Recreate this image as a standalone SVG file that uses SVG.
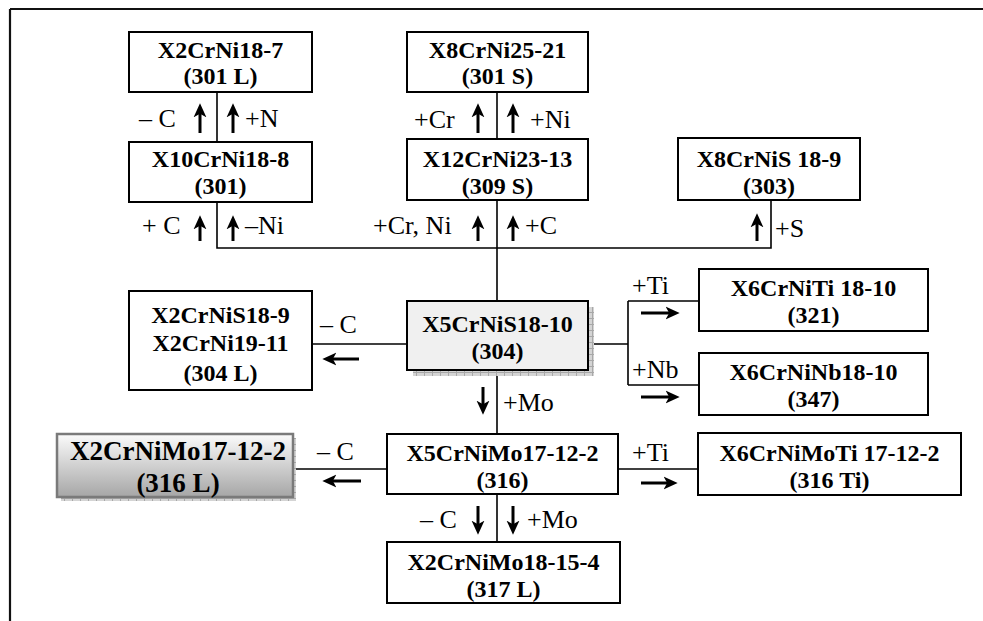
<svg xmlns="http://www.w3.org/2000/svg" width="983" height="621" viewBox="0 0 983 621">
<defs>
<style>
.box{fill:#fff;stroke:#000;stroke-width:2}
.nt{font-family:"Liberation Serif","Times New Roman",serif;font-weight:bold;font-size:24px;text-anchor:middle;fill:#000}
.big{font-size:27px}
.lb{font-family:"Liberation Serif","Times New Roman",serif;font-size:26px;fill:#000}
.cn{fill:none;stroke:#000;stroke-width:1.6}
.ar{fill:none;stroke:#000;stroke-width:3;marker-end:url(#ah)}
</style>
<marker id="ah" viewBox="0 0 12 12" refX="8" refY="6" markerWidth="14" markerHeight="14" orient="auto" markerUnits="userSpaceOnUse">
<path d="M0,0.5 L12,6 L0,11.5 L3,6 z" fill="#000"/>
</marker>
<pattern id="grid" width="8" height="6" patternUnits="userSpaceOnUse">
<rect width="8" height="6" fill="#d4d4d4"/>
<path d="M0,0.5 H8 M0.5,0 V6" stroke="#a8a8a8" stroke-width="1"/>
</pattern>
<linearGradient id="gr" x1="0" y1="0" x2="0" y2="1">
<stop offset="0" stop-color="#fbfbfb"/>
<stop offset="1" stop-color="#a6a6a6"/>
</linearGradient>
</defs>
<rect width="983" height="621" fill="#fff"/>
<g id="frame">
<path d="M10,9 H983 M10,9 V621" fill="none" stroke="#111" stroke-width="2.2"/>
</g>
<g id="connectors">
<path class="cn" d="M217,92 V142"/>
<path class="cn" d="M217,202 V248 H771 V200"/>
<path class="cn" d="M497,92 V139"/>
<path class="cn" d="M497,200 V301"/>
<path class="cn" d="M312,344 H407"/>
<path class="cn" d="M588,344 H628 M628,301 V385 M628,301 H699 M628,385 H699"/>
<path class="cn" d="M497,370 V434"/>
<path class="cn" d="M293,469 H387"/>
<path class="cn" d="M618,469 H698"/>
<path class="cn" d="M497,494 V542"/>
<path class="ar" d="M200,133 V108"/>
<path class="ar" d="M233,133 V108"/>
<path class="ar" d="M200,241 V220"/>
<path class="ar" d="M233,241 V220"/>
<path class="ar" d="M478,133 V108"/>
<path class="ar" d="M513,133 V108"/>
<path class="ar" d="M478,241 V220"/>
<path class="ar" d="M513,241 V220"/>
<path class="ar" d="M757,241 V218"/>
<path class="ar" d="M359,359 H327"/>
<path class="ar" d="M641,313 H675"/>
<path class="ar" d="M641,397 H675"/>
<path class="ar" d="M483,387 V410"/>
<path class="ar" d="M361,481 H327"/>
<path class="ar" d="M641,483 H673"/>
<path class="ar" d="M478,506 V530"/>
<path class="ar" d="M513,506 V530"/>
<text class="lb" x="139" y="127">– C</text>
<text class="lb" x="245" y="127">+N</text>
<text class="lb" x="142" y="234">+ C</text>
<text class="lb" x="245" y="234">–Ni</text>
<text class="lb" x="414" y="128">+Cr</text>
<text class="lb" x="530" y="128">+Ni</text>
<text class="lb" x="373" y="234">+Cr, Ni</text>
<text class="lb" x="525" y="234">+C</text>
<text class="lb" x="775" y="237">+S</text>
<text class="lb" x="320" y="333">– C</text>
<text class="lb" x="632" y="294">+Ti</text>
<text class="lb" x="632" y="378">+Nb</text>
<text class="lb" x="503" y="411">+Mo</text>
<text class="lb" x="317" y="460">– C</text>
<text class="lb" x="632" y="461">+Ti</text>
<text class="lb" x="420" y="528">– C</text>
<text class="lb" x="527" y="528">+Mo</text>
</g>
<g id="n301L">
<rect class="box" x="129" y="32" width="183" height="60"/>
<text class="nt" x="220.5" y="58">X2CrNi18-7</text>
<text class="nt" x="220.5" y="84">(301 L)</text>
</g>
<g id="n301">
<rect class="box" x="129" y="142" width="183" height="60"/>
<text class="nt" x="220.5" y="167">X10CrNi18-8</text>
<text class="nt" x="220.5" y="194">(301)</text>
</g>
<g id="n301S">
<rect class="box" x="407" y="32" width="181" height="60"/>
<text class="nt" x="497.5" y="58">X8CrNi25-21</text>
<text class="nt" x="497.5" y="84">(301 S)</text>
</g>
<g id="n309S">
<rect class="box" x="407" y="139" width="181" height="61"/>
<text class="nt" x="497.5" y="167">X12CrNi23-13</text>
<text class="nt" x="497.5" y="194">(309 S)</text>
</g>
<g id="n303">
<rect class="box" x="678" y="138" width="182" height="62"/>
<text class="nt" x="769" y="167">X8CrNiS 18-9</text>
<text class="nt" x="769" y="194">(303)</text>
</g>
<g id="n304L">
<rect class="box" x="129" y="291" width="183" height="99"/>
<text class="nt" x="220.5" y="323">X2CrNiS18-9</text>
<text class="nt" x="220.5" y="351">X2CrNi19-11</text>
<text class="nt" x="220.5" y="381">(304 L)</text>
</g>
<g id="n304">
<rect x="413" y="307" width="181" height="69" fill="url(#grid)"/>
<rect class="box" x="407" y="301" width="181" height="69" style="fill:#f0f0f0"/>
<text class="nt" x="497.5" y="332">X5CrNiS18-10</text>
<text class="nt" x="497.5" y="359">(304)</text>
</g>
<g id="n321">
<rect class="box" x="699" y="269" width="229" height="62"/>
<text class="nt" x="813.5" y="296">X6CrNiTi 18-10</text>
<text class="nt" x="813.5" y="323">(321)</text>
</g>
<g id="n347">
<rect class="box" x="699" y="353" width="229" height="62"/>
<text class="nt" x="813.5" y="380">X6CrNiNb18-10</text>
<text class="nt" x="813.5" y="407">(347)</text>
</g>
<g id="n316L">
<rect x="61" y="438" width="235" height="63" fill="url(#grid)"/>
<rect x="57" y="434" width="236" height="63" fill="url(#gr)" stroke="#7a7a7a" stroke-width="2.5"/>
<text class="nt big" x="178" y="460">X2CrNiMo17-12-2</text>
<text class="nt big" x="178" y="492">(316 L)</text>
</g>
<g id="n316">
<rect class="box" x="387" y="434" width="231" height="60"/>
<text class="nt" x="502.5" y="461">X5CrNiMo17-12-2</text>
<text class="nt" x="502.5" y="488">(316)</text>
</g>
<g id="n316Ti">
<rect class="box" x="698" y="433" width="263" height="62"/>
<text class="nt" x="829.5" y="461">X6CrNiMoTi 17-12-2</text>
<text class="nt" x="829.5" y="488">(316 Ti)</text>
</g>
<g id="n317L">
<rect class="box" x="387" y="542" width="233" height="61"/>
<text class="nt" x="503.5" y="570">X2CrNiMo18-15-4</text>
<text class="nt" x="503.5" y="597">(317 L)</text>
</g>
</svg>
